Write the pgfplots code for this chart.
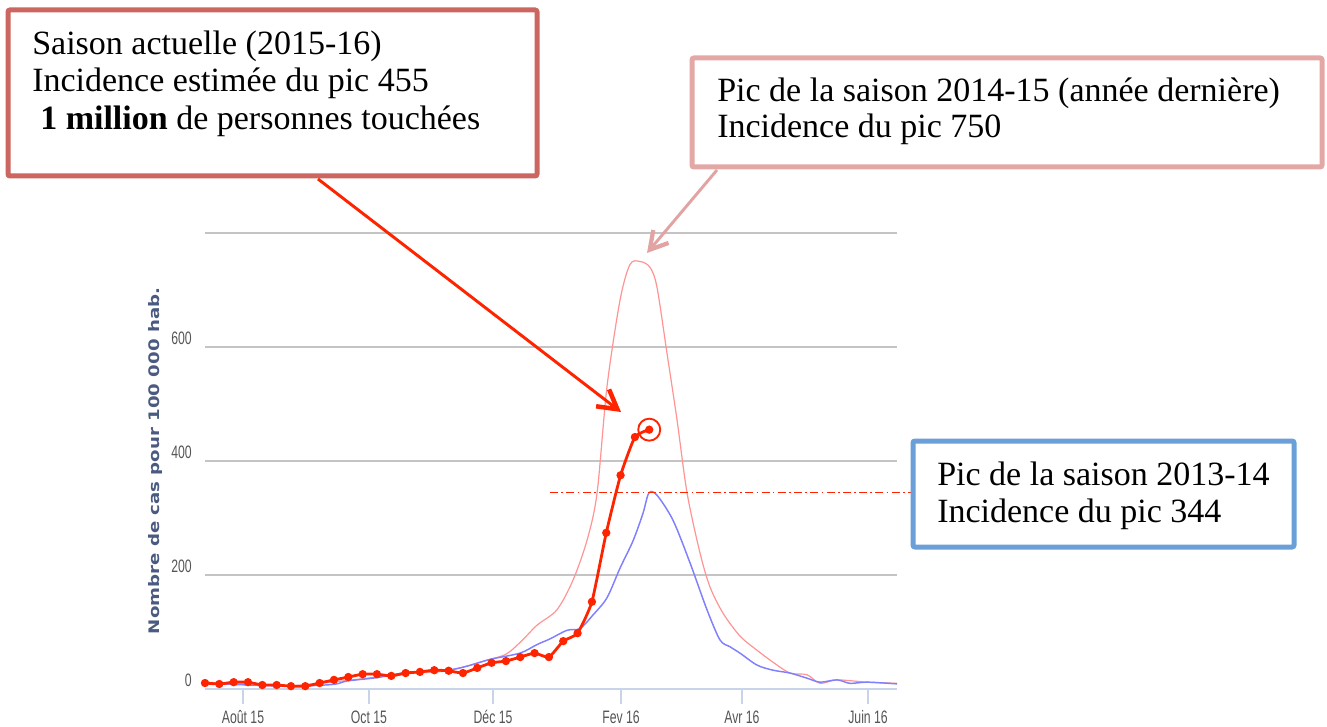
\documentclass[border=0pt]{standalone}
\usepackage{pgfplots}
\pgfplotsset{compat=1.18}
\usepackage{fontspec}
\setmainfont{Liberation Serif}
\newfontfamily\tickfont[FakeStretch=0.68]{Liberation Sans}
\newfontfamily\ylabfont[FakeStretch=1.25]{DejaVu Sans}
\usetikzlibrary{arrows.meta}
\definecolor{redc}{HTML}{FF2400}
\definecolor{pinkc}{HTML}{FF9494}
\definecolor{bluec}{HTML}{8080FF}
\definecolor{axisc}{HTML}{C8D4E8}
\definecolor{gridc}{HTML}{C4C4C4}
\definecolor{tickc}{HTML}{555555}
\definecolor{ylabc}{HTML}{4A5A80}
\definecolor{boxred}{HTML}{CC6660}
\definecolor{boxpink}{HTML}{E3A8A6}
\definecolor{boxblue}{HTML}{6A9FD8}
\definecolor{arrpink}{HTML}{E2A3A3}
\newcommand\annot{\fontsize{25.5pt}{28pt}\selectfont}

\pgfplotstableread{
x y
0 10.5
1 8.8
2 12
3 12
4 7
5 7
6 5
7 5
8 10.5
9 16
10 21
11 26
12 26
13 23
14 28
15 30
16 33
17 32
18 28
19 37
20 46
21 49
22 56
23 63
24 56
25 84
26 98
27 153
28 274
29 375
30 442
31 455
}\tcur

\pgfplotstableread{
x y
0.00 10
3.14 7
6.07 5
8.93 8
9.91 14
12.00 20
14.10 29
16.89 33
18.28 40
19.89 52
21.98 63
23.17 78
24.08 88
25.26 103
26.17 106
27.08 130
28.05 160
28.96 212
29.87 260
30.56 308
30.98 344
31.54 340
32.66 296
33.85 221
35.03 139
35.94 86
36.64 74
37.33 63
38.52 42
39.64 33
40.82 28
42.01 19
42.92 12
44.10 16
45.01 10
46.20 12
48.29 9
}\tblue

\pgfplotstableread{
x y
0.00 12
3.14 9
6.07 6
9.91 15
14.10 27
16.89 32
19.89 52
21.07 62
22.12 85
23.17 112
24.56 139
25.68 191
26.66 261
27.36 344
28.05 530
28.96 682
29.66 745
30.36 750
31.05 740
31.54 705
32.24 589
32.94 472
33.64 344
34.54 239
35.24 179
36.15 133
37.33 93
38.52 68
39.64 47
40.82 28
42.01 25
42.92 10
44.10 16
46.20 12
48.29 10
}\tpink

\begin{document}
\begin{tikzpicture}
\path[use as bounding box] (0,0) rectangle (995.25pt,-545.25pt);
\begin{axis}[
  at={(153.75pt,-516.75pt)}, anchor=south west,
  scale only axis, width=519pt, height=342pt,
  xmin=0, xmax=48.29, ymin=0, ymax=800,
  clip=false,
  axis x line*=bottom, axis y line*=left,
  x axis line style={draw=axisc, line width=0.9pt, -},
  y axis line style={draw=none},
  ytick={0,200,400,600,800}, yticklabels={0,200,400,600,{}},
  ymajorgrids, grid style={draw=gridc, line width=0.9pt},
  ytick style={draw=none},
  xtick={2.65,11.44,20.10,29.03,37.47,46.27},
  xticklabels={Août 15,Oct 15,Déc 15,Fev 16,Avr 16,Juin 16},
  xtick style={draw=axisc, line width=0.9pt},
  tick align=outside, major tick length=11.25pt,
  /pgf/number format/assume math mode=true,
  xticklabel style={font=\tickfont\fontsize{13.5pt}{16pt}\selectfont, text=tickc, anchor=base, inner sep=0pt, yshift=-14.5pt},
  yticklabel style={font=\tickfont\fontsize{13.5pt}{16pt}\selectfont, text=tickc, anchor=base east, inner sep=0pt, xshift=1.5pt, yshift=2pt},
]
\addplot[pinkc, line width=0.9pt, smooth, tension=0.5] table[x=x,y=y] {\tpink};
\addplot[bluec, line width=1.1pt, smooth, tension=0.5] table[x=x,y=y] {\tblue};
\addplot[redc, line width=2.1pt, smooth, tension=0.3, mark=*, mark size=2pt, mark options={fill=redc, draw=redc}] table[x=x,y=y] {\tcur};
\draw[redc, line width=0.8pt, dash pattern=on 6pt off 2.5pt on 1.2pt off 2.5pt] (axis cs:24.08,344) -- (axis cs:49.34,344);
\draw[redc, line width=1.4pt] (axis cs:31,455) circle[radius=8.25pt];
\end{axis}
\begin{scope}[x=0.75pt,y=-0.75pt]
\node[ylabc, rotate=90, inner sep=0pt, font=\ylabfont\bfseries\fontsize{10.9pt}{12pt}\selectfont] at (155,461) {Nombre de cas pour 100 000 hab.};
% boxes
\draw[boxred, line width=3.75pt, rounded corners=1.5pt, fill=white] (8,10) rectangle (537,176);
\draw[boxpink, line width=3.75pt, rounded corners=1.5pt, fill=white] (692,58) rectangle (1322,167);
\draw[boxblue, line width=3.75pt, rounded corners=1.5pt, fill=white] (913,441) rectangle (1294,547);
\node[anchor=base west, inner sep=0pt, font=\annot] at (32,55) {Saison actuelle (2015-16)};
\node[anchor=base west, inner sep=0pt, font=\annot] at (32,92) {Incidence estimée du pic 455};
\node[anchor=base west, inner sep=0pt, font=\annot] at (40,130) {\textbf{1 million} de personnes touchées};
\node[anchor=base west, inner sep=0pt, font=\annot] at (717,102) {Pic de la saison 2014-15 (année dernière)};
\node[anchor=base west, inner sep=0pt, font=\annot] at (717,138) {Incidence du pic 750};
\node[anchor=base west, inner sep=0pt, font=\annot] at (937,485) {Pic de la saison 2013-14};
\node[anchor=base west, inner sep=0pt, font=\annot] at (937,522) {Incidence du pic 344};
% arrows
\draw[redc, line width=2.2pt, -{Straight Barb[length=14pt, width=16pt, line width=3.4pt]}] (318,179) -- (621,412);
\draw[arrpink, line width=2.2pt, -{Straight Barb[length=13pt, width=15pt, line width=3.2pt]}] (717,170) -- (647,253);
\end{scope}
\end{tikzpicture}
\end{document}
